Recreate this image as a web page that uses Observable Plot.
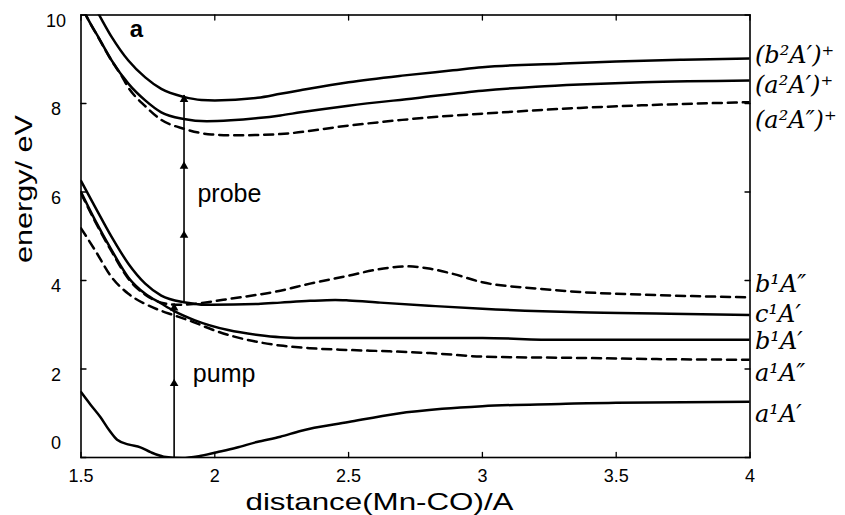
<!DOCTYPE html>
<html><head><meta charset="utf-8">
<script src="https://cdn.jsdelivr.net/npm/d3@7"></script>
<script src="https://cdn.jsdelivr.net/npm/@observablehq/plot@0.6"></script>
<style>body{margin:0;background:#fff}</style>
</head><body><div id="chart"></div>
<script>
const xTicks = [1.5, 2, 2.5, 3, 3.5, 4];
const yTicks = [0, 2, 4, 6, 8, 10];

// potential energy curves [distance, energy]
const b2Ap = [[1.53,10.4],[1.565,10.03],[1.615,9.50],[1.677,8.97],[1.74,8.59],[1.80,8.33],[1.884,8.15],[1.95,8.08],[2.0,8.07],[2.16,8.13],[2.245,8.22],[2.32,8.30],[2.5,8.48],[2.7,8.63],[2.89,8.75],[3.0,8.82],[3.29,8.90],[3.5,8.95],[3.75,8.99],[4.0,9.02]];
const a2Ap = [[1.49,10.4],[1.516,10.03],[1.565,9.50],[1.615,8.97],[1.677,8.45],[1.74,8.07],[1.80,7.80],[1.884,7.65],[1.97,7.60],[2.06,7.62],[2.162,7.67],[2.245,7.73],[2.32,7.80],[2.5,7.95],[2.75,8.12],[3.0,8.29],[3.2,8.38],[3.364,8.43],[3.6,8.48],[4.0,8.52]];
const a2App = [[1.49,10.4],[1.516,10.03],[1.565,9.49],[1.615,8.96],[1.65,8.64],[1.677,8.36],[1.74,7.94],[1.80,7.63],[1.884,7.43],[1.988,7.30],[2.08,7.28],[2.162,7.29],[2.245,7.31],[2.5,7.50],[2.7,7.63],[2.854,7.71],[3.0,7.77],[3.364,7.90],[3.6,7.96],[4.0,8.03]];
const c1Ap = [[1.5,6.25],[1.553,5.66],[1.615,4.98],[1.677,4.38],[1.74,3.93],[1.80,3.66],[1.884,3.51],[1.988,3.45],[2.162,3.47],[2.245,3.50],[2.356,3.54],[2.45,3.56],[2.5,3.55],[2.618,3.50],[2.8,3.43],[3.0,3.36],[3.364,3.28],[3.7,3.25],[4.0,3.22]];
const b1Ap = [[1.5,6.0],[1.553,5.36],[1.615,4.68],[1.677,4.07],[1.74,3.70],[1.80,3.48],[1.845,3.32],[1.926,3.10],[2.05,2.88],[2.162,2.77],[2.245,2.72],[2.356,2.70],[2.6,2.70],[3.0,2.70],[3.277,2.66],[3.6,2.66],[4.0,2.66]];
const b1App = [[1.5,5.97],[1.553,5.33],[1.615,4.65],[1.677,4.04],[1.74,3.68],[1.80,3.50],[1.86,3.45],[1.92,3.47],[1.96,3.50],[2.05,3.58],[2.245,3.77],[2.356,3.93],[2.5,4.11],[2.6,4.24],[2.717,4.32],[2.8,4.27],[2.89,4.15],[3.0,3.96],[3.2,3.82],[3.364,3.74],[3.6,3.68],[4.0,3.62]];
const a1App = [[1.5,5.18],[1.553,4.68],[1.615,4.07],[1.677,3.70],[1.74,3.47],[1.797,3.32],[1.845,3.22],[1.92,3.06],[1.995,2.88],[2.08,2.72],[2.17,2.60],[2.245,2.53],[2.356,2.47],[2.5,2.43],[2.65,2.40],[2.804,2.36],[3.0,2.28],[3.364,2.25],[3.7,2.22],[4.0,2.21]];
const a1Ap = [[1.5,1.48],[1.535,1.2],[1.573,0.91],[1.605,0.62],[1.635,0.40],[1.68,0.29],[1.722,0.23],[1.76,0.12],[1.809,0.02],[1.878,-0.01],[1.94,0.03],[2.008,0.12],[2.08,0.22],[2.157,0.35],[2.245,0.47],[2.32,0.60],[2.5,0.80],[2.68,0.99],[2.85,1.10],[3.0,1.16],[3.29,1.21],[3.5,1.24],[4.0,1.26]];

const solidSeries = [b2Ap, a2Ap, c1Ap, b1Ap, a1Ap];
const dashedSeries = [a2App, b1App, a1App];

// state labels on the right
const stateLabels = ["(b²A′)⁺", "(a²A′)⁺", "(a²A″)⁺", "b¹A″", "c¹A′", "b¹A′", "a¹A″", "a¹A′"];
const stateLabelY = [9.1, 8.41, 7.62, 3.91, 3.23, 2.63, 1.91, 0.97];

// pump / probe arrows
const arrowLines = [{x: 1.848, y1: 0, y2: 3.47}, {x: 1.885, y1: 3.51, y2: 8.18}];
const arrowHeads = [{x: 1.848, y: 1.67}, {x: 1.848, y: 3.38}, {x: 1.885, y: 5.02}, {x: 1.885, y: 6.58}, {x: 1.885, y: 8.09}];
const annotations = [{x: 1.935, y: 5.95, t: "probe"}, {x: 1.918, y: 1.88, t: "pump"}];
const panelLabel = [{x: 1.707, y: 9.67, t: "a"}];

const xTitle = "distance(Mn-CO)/A";
const yTitle = "energy/ eV";

const tickShape = (ux, uy) => ({draw(ctx, l) { ctx.moveTo(0, 0); ctx.lineTo(ux * l, uy * l); }});

const marks = [];
for (const s of solidSeries) {
  marks.push(Plot.line(s, {x: d => d[0], y: d => d[1], stroke: "black", strokeWidth: 2.5, curve: "monotone-x", clip: true}));
}
for (const s of dashedSeries) {
  marks.push(Plot.line(s, {x: d => d[0], y: d => d[1], stroke: "black", strokeWidth: 2.5, strokeDasharray: "9,6", curve: "monotone-x", clip: true}));
}
marks.push(
  Plot.ruleX(arrowLines, {x: "x", y1: "y1", y2: "y2", stroke: "black", strokeWidth: 1.6}),
  Plot.dot(arrowHeads, {x: "x", y: "y", symbol: "triangle", r: 3.2, fill: "black", stroke: "none"}),
  Plot.text(annotations, {x: "x", y: "y", text: "t", textAnchor: "start", lineAnchor: "middle", fontSize: 25, fill: "black"}),
  Plot.text(panelLabel, {x: "x", y: "y", text: "t", textAnchor: "middle", lineAnchor: "middle", fontSize: 24, fontWeight: "bold", fill: "black"}),
  Plot.text(stateLabels, {x: () => 4, y: (d, i) => stateLabelY[i], text: d => d, dx: 5, textAnchor: "start", lineAnchor: "middle", fontSize: 24, fontFamily: "DejaVu Serif", fontStyle: "italic", fill: "black"}),
  Plot.frame({stroke: "black", strokeWidth: 1.6}),
  // inward ticks on all four sides
  Plot.vector(xTicks, {x: d => d, frameAnchor: "bottom", length: 5, anchor: "start", shape: tickShape(0, -1), stroke: "black", strokeWidth: 1.3}),
  Plot.vector(xTicks, {x: d => d, frameAnchor: "top", length: 5, anchor: "start", shape: tickShape(0, 1), stroke: "black", strokeWidth: 1.3}),
  Plot.vector(yTicks, {y: d => d, frameAnchor: "left", length: 5, anchor: "start", shape: tickShape(1, 0), stroke: "black", strokeWidth: 1.3}),
  Plot.vector(yTicks, {y: d => d, frameAnchor: "right", length: 5, anchor: "start", shape: tickShape(-1, 0), stroke: "black", strokeWidth: 1.3}),
  // tick labels
  Plot.axisX({anchor: "bottom", ticks: xTicks, tickSize: 0, tickPadding: 12, fontSize: 18, label: null, tickFormat: d => String(d)}),
  Plot.axisY({anchor: "left", ticks: yTicks.filter(d => d > 0), tickSize: 0, tickPadding: 25, textAnchor: "middle", dy: 6, fontSize: 18, label: null, tickFormat: d => String(d)}),
  Plot.axisY({anchor: "left", ticks: yTicks.filter(d => d === 0), tickSize: 0, tickPadding: 25, textAnchor: "middle", dy: -14, fontSize: 18, label: null, tickFormat: d => String(d)}),
  Plot.text([xTitle], {frameAnchor: "bottom", text: d => d, dx: -36, dy: 45, lineAnchor: "middle", fontSize: 24, fill: "black"}),
  Plot.text([yTitle], {frameAnchor: "left", text: d => d, rotate: -90, dx: -60, dy: -47, lineAnchor: "middle", fontSize: 24, fill: "black"})
);

const chart = Plot.plot({
  width: 845,
  height: 515,
  marginLeft: 80.5,
  marginRight: 95.5,
  marginTop: 14.5,
  marginBottom: 58,
  style: {fontFamily: "'Liberation Sans', Arial, Helvetica, sans-serif", background: "white", color: "black", overflow: "visible"},
  x: {domain: [1.5, 4]},
  y: {domain: [0, 10]},
  marks
});

document.getElementById("chart").appendChild(chart);

// stretch axis titles like the original figure, and centre the vertical one
const svgBox = chart.getBoundingClientRect();
d3.select(chart).selectAll("text").each(function() {
  const t = this.textContent;
  if (t === xTitle) { this.setAttribute("textLength", 268); this.setAttribute("lengthAdjust", "spacingAndGlyphs"); }
  if (t === yTitle) {
    this.setAttribute("textLength", 148); this.setAttribute("lengthAdjust", "spacingAndGlyphs");
    const r = this.getBoundingClientRect();
    const cx = r.left + r.width / 2 - svgBox.left, cy = r.top + r.height / 2 - svgBox.top;
    this.setAttribute("transform", `translate(${23 - cx},${189 - cy}) ` + (this.getAttribute("transform") || ""));
  }
});
</script>
</body></html>
